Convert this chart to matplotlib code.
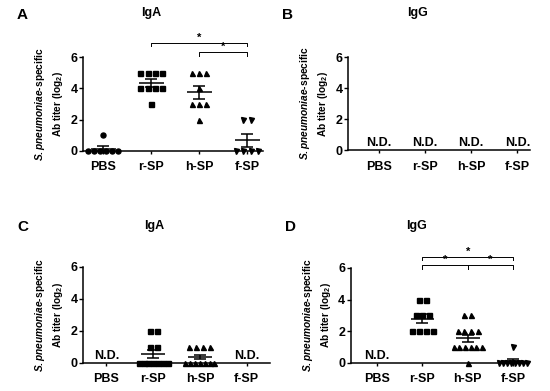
import numpy as np
import matplotlib
matplotlib.use("Agg")
import matplotlib.pyplot as plt

plt.rcParams["font.family"] = ["Liberation Sans", "DejaVu Sans"]
plt.rcParams["font.weight"] = "bold"
plt.rcParams["mathtext.fontset"] = "custom"
plt.rcParams["mathtext.it"] = "Liberation Sans:italic:bold"
plt.rcParams["mathtext.rm"] = "Liberation Sans:bold"
plt.rcParams["mathtext.bf"] = "Liberation Sans:bold"

categories = ["PBS", "r-SP", "h-SP", "f-SP"]
markers = ["o", "s", "^", "v"]

# None means not detected (N.D.)
A_pbs = [1, 0, 0, 0, 0, 0, 0]
A_rsp = [5, 5, 5, 5, 4, 4, 4, 4, 3]
A_hsp = [5, 5, 5, 4, 3, 3, 3, 2]
A_fsp = [2, 2, 0, 0, 0, 0]

C_rsp = [2, 2, 1, 1, 0, 0, 0, 0, 0, 0, 0]
C_hsp = [1, 1, 1, 1, 0, 0, 0, 0, 0, 0, 0]

D_rsp = [4, 4, 3, 3, 3, 2, 2, 2, 2]
D_hsp = [3, 3, 2, 2, 2, 2, 1, 1, 1, 1, 1, 1, 0]
D_fsp = [1, 0, 0, 0, 0, 0, 0, 0, 0]

panels = [
    dict(letter="A", title="IgA", groups=[A_pbs, A_rsp, A_hsp, A_fsp],
         sig=[(1, 3, 6.9), (2, 3, 6.3)],
         rect=[0.151, 0.614, 0.327, 0.240], xlim=(-0.42, 3.33)),
    dict(letter="B", title="IgG", groups=[None, None, None, None], sig=[],
         rect=[0.633, 0.616, 0.331, 0.238], xlim=(-0.67, 3.28)),
    dict(letter="C", title="IgA", groups=[None, C_rsp, C_hsp, None], sig=[],
         rect=[0.151, 0.072, 0.340, 0.246], xlim=(-0.5, 3.5)),
    dict(letter="D", title="IgG", groups=[None, D_rsp, D_hsp, D_fsp],
         sig=[(1, 3, 6.7), (1, 2, 6.15), (2, 3, 6.15)],
         rect=[0.638, 0.072, 0.313, 0.243], xlim=(-0.58, 3.22)),
]

fig = plt.figure(figsize=(5.5, 3.91), dpi=100)

for p in panels:
    ax = fig.add_axes(p["rect"])
    for i, vals in enumerate(p["groups"]):
        if vals is None:
            ax.text(i, 0.08, "N.D.", ha="center", va="bottom", fontsize=9, fontweight="bold")
            continue
        vals = np.array(vals, dtype=float)
        # spread equal values side by side, packed tighter for long rows
        xs = np.zeros(len(vals))
        for v in np.unique(vals):
            idx = np.where(vals == v)[0]
            k = len(idx)
            step = 0.15 if k < 2 else min(0.15, 0.62 / (k - 1))
            xs[idx] = i + (np.arange(k) - (k - 1) / 2) * step
        ax.plot(xs, vals, ls="none", marker=markers[i], color="black", ms=3.6, clip_on=False, zorder=3)
        m = vals.mean()
        sem = vals.std(ddof=1) / np.sqrt(len(vals))
        ax.hlines(m, i - 0.26, i + 0.26, color="black", lw=1.1, zorder=4)
        ax.errorbar(i, m, yerr=sem, color="black", lw=1.1, capsize=4.5, capthick=1.1, zorder=4)

    for x0, x1, h in p["sig"]:
        ax.plot([x0, x0, x1, x1], [h - 0.22, h, h, h - 0.22], color="black", lw=0.7, clip_on=False)
        ax.text((x0 + x1) / 2, h + 0.02, "*", ha="center", va="bottom", fontsize=8, fontweight="bold")

    ax.set_xlim(*p["xlim"])
    ax.set_ylim(0, 6)
    ax.set_yticks([0, 2, 4, 6])
    ax.set_xticks(range(4))
    ax.set_xticklabels(categories, fontsize=9, fontweight="bold")
    ax.tick_params(axis="y", labelsize=9, length=3, width=1, pad=1)
    ax.tick_params(axis="x", length=2.5, width=1, pad=5)
    for s in ["top", "right"]:
        ax.spines[s].set_visible(False)
    for s in ["left", "bottom"]:
        ax.spines[s].set_linewidth(1.1)
    ax.set_ylabel("$\\it{S. pneumoniae}$-specific\nAb titer (log$_2$)", fontsize=7.3,
                  fontweight="bold", labelpad=4, linespacing=1.4)

    l, b, w, h = p["rect"]
    fig.text(l - 0.12, 0.962 if b > 0.5 else 0.42, p["letter"], fontsize=11, fontweight="bold",
             ha="left", va="center")
    fig.text(l + w * 0.38, 0.966 if b > 0.5 else 0.422,
             p["title"], fontsize=9, fontweight="bold", ha="center", va="center")

fig.savefig("out.png", dpi=100)
